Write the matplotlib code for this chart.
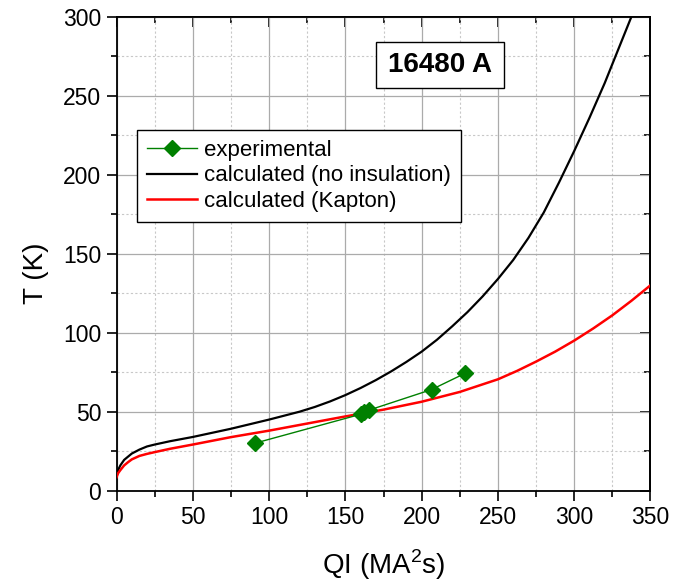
import matplotlib
matplotlib.use("Agg")
import matplotlib.pyplot as plt
from matplotlib.ticker import MultipleLocator
from matplotlib.patches import Rectangle

plt.rcParams['font.family'] = ['Liberation Sans', 'DejaVu Sans']
plt.rcParams['mathtext.fontset'] = 'custom'
plt.rcParams['mathtext.rm'] = 'Liberation Sans'

# ---- data ----
exp_x = [90.5, 160.5, 162.5, 165.5, 206.5, 228.5]
exp_T = [30.0, 48.5, 50.0, 51.0, 64.0, 74.3]

noins_x = [0, 1, 2.5, 5, 7.5, 10, 15, 20, 25, 35, 50, 75, 100, 110, 120, 130, 140, 150,
           160, 170, 180, 190, 200, 210, 220, 230, 240, 250, 260, 270, 280, 290, 300,
           310, 320, 330, 340]
noins_T = [9, 13, 16, 19.5, 21.5, 23.5, 26, 28, 29.2, 31.3, 34, 39.2, 45, 47.5, 50, 53, 56.5, 60.5,
           65, 70, 75.5, 81.5, 88, 95.5, 104, 113, 123, 134, 146, 160, 176, 195, 215,
           236, 258, 282, 306]

kapton_x = [0, 1, 2.5, 5, 7.5, 10, 15, 20, 25, 35, 50, 75, 100, 125, 150, 175, 200, 225,
            250, 262.5, 275, 287.5, 300, 312.5, 325, 337.5, 350]
kapton_T = [8.5, 11, 13, 16, 18, 19.8, 22, 23.3, 24.4, 26.5, 29.2, 33.9, 38, 42.5, 47, 51.3, 56.3, 62.5,
            70.5, 75.8, 81.7, 88, 95, 102.7, 111, 120.2, 130]

labels = ["experimental", "calculated (no insulation)", "calculated (Kapton)"]
annotation = "16480 A"
xlabel = "QI (MA$^\\mathregular{2}$s)"
ylabel = "T (K)"

fig = plt.figure(figsize=(6.83, 5.82), dpi=100)
ax = fig.add_axes([0.1706, 0.1569, 0.7818, 0.8144])

ax.plot(noins_x, noins_T, color='black', lw=1.6, label=labels[1], zorder=3)
ax.plot(kapton_x, kapton_T, color='#ff0000', lw=1.8, label=labels[2], zorder=3)
ax.plot(exp_x, exp_T, color='green', lw=1.0, marker='D', markersize=8.5,
        markeredgecolor='green', markerfacecolor='green', label=labels[0], zorder=4)

ax.set_xlim(0, 350)
ax.set_ylim(0, 300)
ax.xaxis.set_major_locator(MultipleLocator(50))
ax.xaxis.set_minor_locator(MultipleLocator(25))
ax.yaxis.set_major_locator(MultipleLocator(50))
ax.yaxis.set_minor_locator(MultipleLocator(25))

ax.grid(which='major', color='#ababab', lw=0.9, ls='-', zorder=0)
ax.grid(which='minor', color='#c8c8c8', lw=0.8, ls=(0, (2, 2)), zorder=0)
ax.set_axisbelow(True)

ax.tick_params(which='major', direction='out', length=7, width=1.2, labelsize=16.5, pad=4,
               top=False, right=False)
ax.tick_params(which='minor', direction='out', length=4, width=1.2, top=False, right=False)

for s in ax.spines.values():
    s.set_linewidth(1.3)
    s.set_color('black')

secx = ax.secondary_xaxis('top')
secx.xaxis.set_major_locator(MultipleLocator(50))
secx.xaxis.set_minor_locator(MultipleLocator(25))
secx.tick_params(which='major', direction='in', length=7, width=1.2, labeltop=False)
secx.tick_params(which='minor', direction='in', length=4, width=1.2)
secx.spines['top'].set_linewidth(1.3)
secy = ax.secondary_yaxis('right')
secy.yaxis.set_major_locator(MultipleLocator(50))
secy.yaxis.set_minor_locator(MultipleLocator(25))
secy.tick_params(which='major', direction='in', length=7, width=1.2, labelright=False)
secy.tick_params(which='minor', direction='in', length=4, width=1.2)
secy.spines['right'].set_linewidth(1.3)

ax.set_xlabel(xlabel, fontsize=20, va='baseline')
ax.xaxis.set_label_coords(0.5, -0.176)
ax.set_ylabel(ylabel, fontsize=20, va='center')
ax.yaxis.set_label_coords(-0.151, 0.459)

handles, labs = ax.get_legend_handles_labels()
order = [2, 0, 1]
leg = ax.legend([handles[i] for i in order], [labs[i] for i in order],
                loc='upper left', bbox_to_anchor=(0.039, 0.761), borderaxespad=0,
                fontsize=16, handlelength=2.25, handletextpad=0.3, labelspacing=0.2,
                borderpad=0.45, numpoints=1, fancybox=False, framealpha=1,
                edgecolor='black')
leg.get_frame().set_linewidth(1.0)

ax.add_patch(Rectangle((0.486, 0.850), 0.240, 0.096, transform=ax.transAxes,
                       facecolor='white', edgecolor='black', lw=1.0, zorder=5))
ax.text(0.606, 0.898, annotation, transform=ax.transAxes, ha='center', va='center',
        fontsize=20, fontweight='bold', zorder=6)

fig.savefig("out.png", dpi=100)
